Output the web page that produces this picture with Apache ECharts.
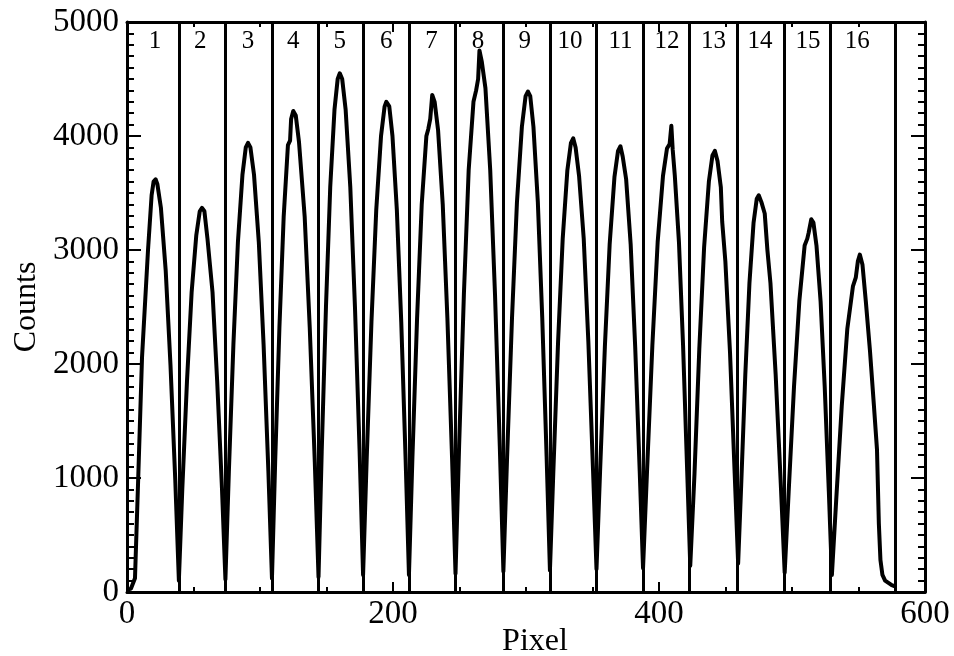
<!DOCTYPE html>
<html>
<head>
<meta charset="utf-8">
<script src="https://cdn.jsdelivr.net/npm/echarts@6/dist/echarts.min.js"></script>
<style>
html,body{margin:0;padding:0;background:#fff;}
#chart{width:954px;height:656px;}
</style>
</head>
<body>
<div id="chart"></div>
<script>
// ---- data ----
const pixel = [
  0, 3, 6, 8.3, 11.3, 15.8, 18.5, 20, 21.5, 22.8, 25.5, 29.1, 32.7, 36.3, 39,
  41.6, 45.1, 48.6, 52.1, 54.7, 56.4, 58.2, 60.5, 64.3, 67.8, 71.4, 74,
  76.6, 80, 83.4, 86.8, 89.3, 91, 92.8, 95.5, 99.1, 102.7, 106.3, 109,
  111.4, 114.6, 117.8, 121, 122.6, 123.4, 125, 126.9, 129.3, 133.6, 137.4, 141.2, 144,
  146.4, 149.6, 152.8, 156, 158.4, 160, 161.8, 164.4, 167.9, 171.4, 174.9, 177.5,
  180.2, 183.8, 187.4, 191, 193.7, 195, 196.3, 197.2, 199.6, 202.9, 206.2, 209.5, 212,
  214.6, 218.1, 221.6, 225.1, 226.5, 228, 229.5, 231.3, 233.9, 237.4, 240.9, 244.4, 247,
  249.7, 253.3, 256.9, 260.5, 262.5, 264, 265, 266.8, 269.5, 273.1, 276.7, 280.3, 283,
  285.8, 289.5, 293.2, 296.9, 299.7, 301.5, 303.2, 305.6, 308.9, 312.2, 315.5, 318,
  320.6, 324.1, 327.6, 331.1, 333.8, 335.5, 337.3, 339.9, 343.4, 346.9, 350.4, 353,
  355.7, 359.3, 362.9, 366.5, 369.2, 371, 372.7, 375.3, 378.7, 382.1, 385.5, 388,
  391, 395, 399, 403, 406, 408, 409.3, 410.3, 411.9, 415, 418.1, 421.2, 423.5,
  426.7, 430.3, 433.9, 437.5, 440.2, 442, 444, 446.5, 447.5, 449.9, 453.4, 456.9, 459.5,
  461.8, 464.9, 468, 471.1, 473.5, 475, 477, 479.5, 481.5, 483.8, 487.7, 491.6, 494.5,
  497.5, 501.5, 505.5, 509.5, 511.5, 512.5, 514.5, 516.1, 518.4, 521.5, 524.6, 527.7, 530,
  533.2, 537.4, 541.6, 545.8, 548, 549.5, 551, 553, 555.5, 558.6, 561.5, 563.9, 565.3, 566.5, 568, 570, 575, 577.4
];
const counts = [
  20, 30, 120, 950, 2060, 3000, 3480, 3600, 3620, 3580, 3370, 2820, 1990, 980, 100,
  910, 1850, 2630, 3130, 3340, 3370, 3340, 3100, 2630, 1850, 910, 110,
  1060, 2170, 3070, 3660, 3900, 3940, 3900, 3660, 3070, 2170, 1060, 120,
  1140, 2320, 3290, 3920, 3960, 4150, 4220, 4180, 3950, 3290, 2320, 1140, 130,
  1230, 2500, 3550, 4230, 4500, 4550, 4500, 4230, 3550, 2500, 1230, 150,
  1160, 2370, 3350, 4000, 4260, 4300, 4290, 4260, 4000, 3350, 2370, 1160, 150,
  1180, 2400, 3400, 4000, 4060, 4150, 4360, 4300, 4050, 3400, 2400, 1180, 160,
  1280, 2610, 3700, 4300, 4400, 4500, 4750, 4650, 4420, 3700, 2610, 1280, 180,
  1190, 2410, 3420, 4080, 4350, 4390, 4350, 4080, 3420, 2410, 1190, 190,
  1070, 2190, 3100, 3700, 3940, 3980, 3900, 3650, 3100, 2190, 1070, 200,
  1060, 2150, 3050, 3640, 3870, 3910, 3820, 3620, 3050, 2150, 1060, 210,
  1060, 2160, 3070, 3650, 3890, 3930, 4090, 3880, 3650, 3070, 2160, 1060, 230,
  1040, 2130, 3020, 3600, 3830, 3870, 3780, 3550, 3250, 2900, 2100, 1040, 250,
  940, 1910, 2710, 3240, 3450, 3480, 3420, 3320, 3000, 2710, 1910, 940, 170,
  880, 1800, 2550, 3040, 3100, 3150, 3270, 3240, 3040, 2550, 1800, 880, 150,
  800, 1630, 2310, 2680, 2760, 2900, 2960, 2870, 2550, 2120, 1650, 1250, 600, 280, 150, 100, 60, 50
];
const dividers = [39, 74, 109, 144, 178, 212, 247, 283, 318, 353, 388, 423, 459, 494, 529, 578];
const segmentX = [21, 55, 91, 125, 160, 195, 229, 264, 299, 333, 371, 406, 441, 476, 512, 549];
const segmentLabels = ['1','2','3','4','5','6','7','8','9','10','11','12','13','14','15','16'];
const xRange = [0, 600];
const yRange = [0, 5000];
const xTitle = 'Pixel';
const yTitle = 'Counts';

// ---- chart ----
const FONT = "'Liberation Serif', 'DejaVu Serif', serif";
const segLabelCount = 4830;

const chart = echarts.init(document.getElementById('chart'), null, {renderer: 'canvas'});

const axisLine = {show: true, onZero: false, lineStyle: {color: '#000', width: 3}};
function xAxisCfg(pos, showLabels) {
  return {
    type: 'value', position: pos, min: xRange[0], max: xRange[1], interval: 200,
    axisLine: axisLine,
    axisTick: {show: true, inside: true, length: 10, lineStyle: {color: '#000', width: 2}},
    minorTick: {show: true, splitNumber: 4, length: 5, lineStyle: {color: '#000', width: 2}},
    splitLine: {show: false}, minorSplitLine: {show: false},
    axisLabel: {show: showLabels, color: '#000', fontFamily: FONT, fontSize: 33, margin: 6,
                formatter: v => String(v)},
    name: showLabels ? xTitle : '',
    nameLocation: 'middle', nameGap: 34, nameMoveOverlap: false,
    nameTextStyle: {color: '#000', fontFamily: FONT, fontSize: 32, padding: [0, 0, 0, 18]}
  };
}
function yAxisCfg(pos, showLabels) {
  return {
    type: 'value', position: pos, min: yRange[0], max: yRange[1], interval: 1000,
    axisLine: axisLine,
    axisTick: {show: true, inside: true, length: 14, lineStyle: {color: '#000', width: 2}},
    minorTick: {show: true, splitNumber: 10, length: 7, lineStyle: {color: '#000', width: 2}},
    splitLine: {show: false}, minorSplitLine: {show: false},
    axisLabel: {show: showLabels, color: '#000', fontFamily: FONT, fontSize: 33, margin: 8,
                formatter: v => String(v)},
    name: showLabels ? yTitle : '',
    nameLocation: 'middle', nameGap: 84, nameMoveOverlap: false,
    nameTextStyle: {color: '#000', fontFamily: FONT, fontSize: 32}
  };
}

const option = {
  animation: false,
  backgroundColor: '#fff',
  grid: {left: 127, right: 29, top: 22, bottom: 64, containLabel: false, outerBoundsMode: 'none'},
  xAxis: [xAxisCfg('bottom', true), xAxisCfg('top', false)],
  yAxis: [yAxisCfg('left', true), yAxisCfg('right', false)],
  series: [
    {
      type: 'line',
      data: pixel.map((x, i) => [x, counts[i]]),
      showSymbol: false,
      smooth: false,
      lineStyle: {color: '#000', width: 4, join: 'round'},
      markLine: {
        silent: true,
        symbol: ['none', 'none'],
        label: {show: false},
        lineStyle: {color: '#000', width: 3, type: 'solid'},
        data: dividers.map(x => ({xAxis: x}))
      }
    },
    {
      type: 'scatter',
      symbolSize: 0,
      silent: true,
      itemStyle: {color: '#000', opacity: 1},
      data: segmentX.map((x, i) => ({name: segmentLabels[i], value: [x, segLabelCount]})),
      label: {
        show: true, position: 'inside', formatter: p => p.name, opacity: 1,
        color: '#000', textBorderWidth: 0, fontFamily: FONT, fontSize: 25
      }
    }
  ]
};
chart.setOption(option);
</script>
</body>
</html>
